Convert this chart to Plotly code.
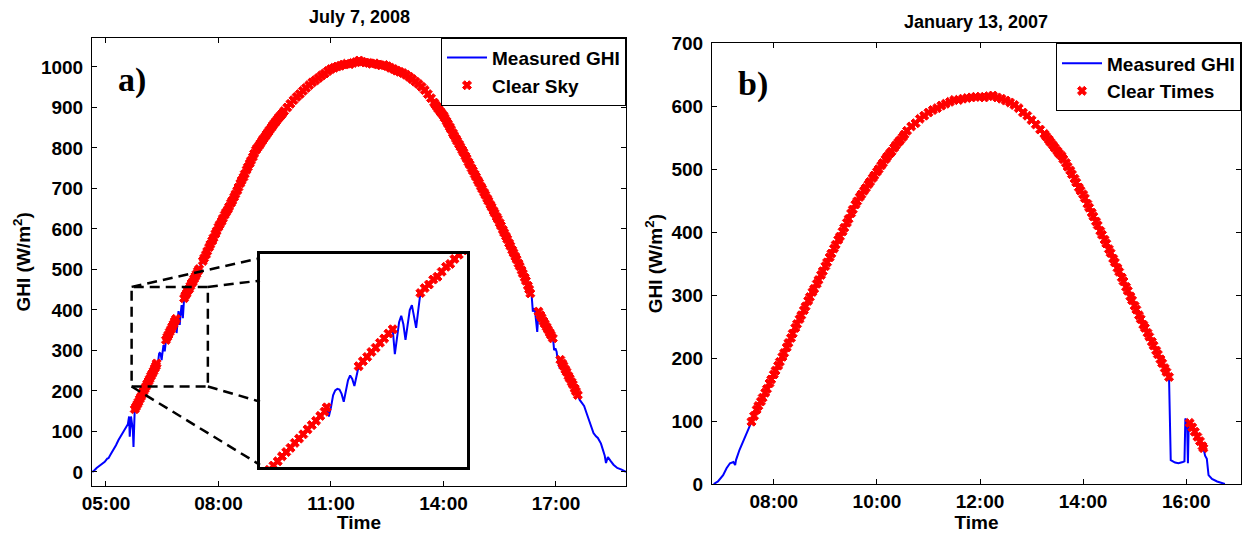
import plotly.graph_objects as go

# ---------------- data ----------------
A_TIME = ["04:38","04:40","04:45","04:50","04:55","04:58","05:02","05:04","05:08","05:12","05:16","05:20","05:25",
          "05:31","05:33","05:35","05:37","05:38","05:40","05:41","05:43","05:44","05:46","05:48","05:50","05:52",
          "05:54","05:56","05:58","06:00","06:02","06:04","06:06","06:08","06:10","06:12","06:14","06:16","06:18",
          "06:20","06:21","06:22","06:23","06:24","06:25","06:26","06:27","06:28","06:29","06:30","06:31","06:32",
          "06:33","06:34","06:35","06:36","06:38","06:40","06:42","06:44","06:46","06:48","06:50","06:52","06:53",
          "06:54","06:55","06:56","06:57","06:58","06:59","07:00","07:01","07:02","07:03","07:04","07:05","07:07",
          "07:09","07:11","07:13","07:15","07:17","07:19","07:21","07:23","07:25","07:27","07:29",
          "07:35","07:40","07:45","07:50","07:55","08:00","08:05","08:10","08:15","08:20","08:25","08:30","08:35",
          "08:40","08:45","08:50","08:55","09:00","09:05","09:10","09:15","09:20","09:25","09:30","09:35","09:40",
          "09:45","09:50","09:55","10:00","10:05","10:10","10:15","10:20","10:25","10:30","10:35","10:40","10:45",
          "10:50","10:55","11:00","11:05","11:10","11:15","11:20","11:25","11:30","11:35","11:40","11:45","11:50",
          "11:55","12:00","12:05","12:10","12:15","12:20","12:25","12:30","12:35","12:40","12:45","12:50","12:55",
          "13:00","13:05","13:10","13:15","13:20","13:25","13:30","13:35","13:40","13:45","13:50","13:55","14:00",
          "14:05","14:10","14:15","14:20","14:25","14:30","14:35","14:40","14:45","14:50","14:55","15:00","15:05",
          "15:10","15:15","15:20","15:25","15:30","15:35","15:40","15:45","15:50","15:55","16:00","16:05","16:10",
          "16:15","16:19","16:21","16:23","16:26","16:28","16:30","16:32","16:35","16:40","16:45","16:50","16:55",
          "16:56","16:57","16:59","17:01","17:02","17:04","17:06","17:07","17:10","17:15","17:20","17:25","17:30",
          "17:35","17:38","17:45","17:49","17:55","18:00","18:04","18:07","18:12","18:15","18:18","18:20","18:23",
          "18:27","18:32","18:38","18:45","18:52"]
A_GHI = [0,2,10,16,22,25,33,34,45,54,66,79,92,
         104,112,118,137,87,137,128,104,62,155,161,167,173,
         180,186,192,199,205,211,218,224,230,237,243,249,256,
         262,268,255,268,285,292,294,293,287,276,290,306,313,
         308,298,312,326,333,339,346,352,359,365,372,378,343,
         365,388,397,385,363,385,405,412,398,380,405,429,436,
         441,448,452,459,466,470,477,483,489,496,501,
         521,537,555,571,588,605,619,635,648,664,679,695,713,
         728,746,762,778,795,806,818,829,840,851,862,872,881,
         891,900,909,918,926,933,941,948,955,962,967,973,979,
         984,990,995,998,1001,1003,1006,1008,1007,1010,1012,1016,1013,
         1011,1010,1008,1009,1006,1004,1005,1002,998,995,991,988,985,
         981,976,970,964,958,951,943,933,923,912,901,890,880,
         866,852,837,823,809,795,780,765,750,735,720,705,690,
         675,660,645,630,615,598,582,565,548,532,515,498,480,
         460,441,437,396,404,375,346,396,387,372,358,344,330,
         318,301,305,297,285,270,256,277,268,253,237,222,206,
         190,178,163,145,118,96,88,84,70,54,40,22,37,
         28,18,10,6,0]
# extra readings on the steep parts of curve a)
A_TIME_EXTRA = ["07:37","07:42","07:47","07:52","07:57","08:02","08:07","08:12","08:17","08:22","08:27","08:32",
                "08:37","08:42","08:47","08:52","08:57","09:02","09:07","09:12","09:17","09:22","09:27","09:32",
                "09:37","09:42",
                "13:47","13:52","13:57","14:02","14:07","14:12","14:17","14:22","14:27","14:32","14:37","14:42",
                "14:47","14:52","14:57","15:02","15:07","15:12","15:17","15:22","15:27","15:32","15:37","15:42",
                "15:47","15:52","15:57","16:02","16:07","16:12","16:17",
                "16:37","16:42","16:47","16:52","17:12","17:17","17:22","17:27","17:32"]
A_GHI_EXTRA = [528,545,562,578,595,611,626,641,655,670,686,703,
               720,736,753,769,786,800,811,823,834,845,856,866,
               876,885,
               907,896,886,874,860,846,831,817,803,789,774,759,
               744,729,714,699,684,669,654,639,624,608,591,575,
               558,541,525,508,490,472,451,
               381,366,352,338,262,247,231,216,199]
A_CLEAR = [("05:46", "06:21"), ("06:36", "06:52"), ("07:05", "16:19"),
           ("16:32", "16:55"), ("17:07", "17:35")]

B_TIME = ["06:50","06:55","07:01","07:05","07:09","07:13","07:15","07:16","07:20","07:28","07:34",
          "07:40","07:45","07:50","07:55","08:00","08:05","08:10","08:15","08:20","08:25","08:30","08:35",
          "08:40","08:45","08:50","08:55","09:00","09:05","09:10","09:15","09:20","09:25","09:30","09:35",
          "09:40","09:45","09:50","09:55","10:00","10:05","10:10","10:15","10:20","10:25","10:30","10:35",
          "10:40","10:45","10:50","10:55","11:00","11:05","11:10","11:15","11:20","11:25","11:30","11:35",
          "11:40","11:45","11:50","11:55","12:00","12:05","12:10","12:15","12:20","12:25","12:30","12:35",
          "12:40","12:45","12:50","12:55","13:00","13:05","13:10","13:15","13:20","13:25","13:30","13:35",
          "13:40","13:45","13:50","13:55","14:00","14:05","14:10","14:15","14:20","14:25","14:30","14:35",
          "14:40","14:45","14:50","14:55","15:00","15:05","15:10","15:15","15:20","15:25","15:30","15:35",
          "15:40","15:42","15:47","15:51","15:56","15:58","15:59","16:01","16:02","16:03","16:04","16:07",
          "16:10","16:13","16:16","16:19","16:20","16:22","16:24","16:26","16:30","16:36","16:45"]
B_GHI = [0,4,14,25,33,35,30,38,54,80,99,
         118,131,145,160,174,188,202,217,232,248,262,276,
         291,305,318,332,346,360,374,388,401,415,430,444,
         456,466,476,486,496,506,516,525,534,543,551,561,
         568,573,580,585,590,594,597,601,604,607,610,610,
         612,613,614,615,615,614,616,617,614,612,609,606,
         602,597,590,585,578,571,563,556,547,538,529,521,
         510,498,485,471,460,445,431,417,402,388,373,358,
         343,328,313,298,283,268,253,240,226,212,198,184,
         170,38,34,33,35,36,104,98,33,99,97,90,
         83,75,68,60,57,45,40,14,8,4,0]
# extra readings on the steep parts of curve b)
B_TIME_EXTRA = ["07:37","07:42","07:47","07:52","07:57","08:02","08:07","08:12","08:17","08:22","08:27","08:32",
                "08:37","08:42","08:47","08:52","08:57","09:02","09:07","09:12","09:17","09:22","09:27","09:32",
                "09:37","09:42","09:47","09:52","09:57","10:02","10:07","10:12","10:17","10:22","10:27","10:32",
                "13:17","13:22","13:27","13:32","13:37","13:42","13:47","13:52","13:57","14:02","14:07","14:12",
                "14:17","14:22","14:27","14:32","14:37","14:42","14:47","14:52","14:57","15:02","15:07","15:12",
                "15:17","15:22","15:27","15:32","15:37"]
B_GHI_EXTRA = [108,124,137,151,166,180,194,208,224,239,254,268,
               282,297,310,324,338,352,366,380,393,407,421,436,
               449,460,470,480,490,500,510,520,528,538,546,555,
               552,543,534,525,516,504,492,479,466,454,439,425,
               411,396,382,367,352,337,322,307,292,277,262,248,
               234,220,206,192,178]
B_CLEAR = [("07:34", "15:40"), ("16:04", "16:20")]

A_TICKS = ["05:00", "08:00", "11:00", "14:00", "17:00"]
B_TICKS = ["08:00", "10:00", "12:00", "14:00", "16:00"]
A_YTICKS = list(range(0, 1001, 100))
B_YTICKS = list(range(0, 701, 100))

# zoomed region shown in the inset of panel a)
ZOOM_T = ("05:41", "07:43")
ZOOM_G = (211, 457)

# ---------------- helpers ----------------
W, H = 1243, 533


def hrs(s):
    h, m = s.split(":")
    return int(h) + int(m) / 60.0


def merged(times, vals, times2, vals2):
    pairs = sorted(zip(times + times2, vals + vals2), key=lambda p: hrs(p[0]))
    return [p[0] for p in pairs], [p[1] for p in pairs]


def clear_points(times, vals, periods):
    xs, ys = [], []
    for t, v in zip(times, vals):
        if any(hrs(a) <= hrs(t) <= hrs(b) for a, b in periods):
            xs.append(hrs(t))
            ys.append(v)
    return xs, ys


def pxx(x):
    return x / W


def pxy(y):
    return 1 - y / H


a_t, a_v = merged(A_TIME, A_GHI, A_TIME_EXTRA, A_GHI_EXTRA)
b_t, b_v = merged(B_TIME, B_GHI, B_TIME_EXTRA, B_GHI_EXTRA)
ax = [hrs(t) for t in a_t]
bx = [hrs(t) for t in b_t]
acx, acy = clear_points(a_t, a_v, A_CLEAR)
bcx, bcy = clear_points(b_t, b_v, B_CLEAR)

# layout geometry (pixels)
A_DOM_X = [pxx(92), pxx(626)]
A_DOM_Y = [pxy(486), pxy(37.7)]
B_DOM_X = [pxx(712), pxx(1241)]
B_DOM_Y = [pxy(484), pxy(43.3)]
I_DOM_X = [pxx(260), pxx(467)]
I_DOM_Y = [pxy(467), pxy(254)]
A_XR = [4.627, 18.867]
A_YR = [-34.6, 1072.3]
B_XR = [6.801, 17.063]
B_YR = [0, 700]
I_XR = [5.828, 7.448]
I_YR = [184, 484]

BLUE = "#0000ff"
RED = "#ff0000"
FONT = "Liberation Sans"

line_style = dict(color=BLUE, width=2)
mk_style = dict(symbol="x", size=8, color=RED, line=dict(color=RED, width=1))

fig = go.Figure()
fig.add_trace(go.Scatter(x=ax, y=a_v, mode="lines", line=line_style, name="Measured GHI",
                         xaxis="x", yaxis="y", legend="legend"))
fig.add_trace(go.Scatter(x=acx, y=acy, mode="markers", marker=mk_style, name="Clear Sky",
                         xaxis="x", yaxis="y", legend="legend"))
fig.add_trace(go.Scatter(x=bx, y=b_v, mode="lines", line=line_style, name="Measured GHI",
                         xaxis="x2", yaxis="y2", legend="legend2"))
fig.add_trace(go.Scatter(x=bcx, y=bcy, mode="markers", marker=mk_style, name="Clear Times",
                         xaxis="x2", yaxis="y2", legend="legend2"))
fig.add_trace(go.Scatter(x=ax, y=a_v, mode="lines", line=line_style, showlegend=False,
                         xaxis="x3", yaxis="y3"))
fig.add_trace(go.Scatter(x=acx, y=acy, mode="markers", marker=mk_style, showlegend=False,
                         xaxis="x3", yaxis="y3"))

tickfont = dict(family=FONT, size=19, color="black", weight="bold")
titlefont = dict(family=FONT, size=19, color="black", weight="bold")
common = dict(showline=True, linecolor="black", linewidth=1, mirror="ticks", ticks="inside",
              ticklen=5, tickwidth=1, tickcolor="black", showgrid=False, zeroline=False,
              tickfont=tickfont, automargin=False)

fig.update_layout(
    width=W, height=H, margin=dict(l=0, r=0, t=0, b=0),
    paper_bgcolor="white", plot_bgcolor="white",
    xaxis=dict(domain=A_DOM_X, range=A_XR, anchor="y", tickvals=[hrs(t) for t in A_TICKS],
               ticktext=A_TICKS, ticklabelstandoff=0,
               title=dict(text="Time", font=titlefont, standoff=3), **common),
    yaxis=dict(domain=A_DOM_Y, range=A_YR, anchor="x", tickvals=A_YTICKS, ticklabelstandoff=4,
               title=dict(text="GHI (W/m<sup>2</sup>)", font=titlefont, standoff=5), **common),
    xaxis2=dict(domain=B_DOM_X, range=B_XR, anchor="y2", tickvals=[hrs(t) for t in B_TICKS],
                ticktext=B_TICKS, ticklabelstandoff=0,
                title=dict(text="Time", font=titlefont, standoff=3), **common),
    yaxis2=dict(domain=B_DOM_Y, range=B_YR, anchor="x2", tickvals=B_YTICKS, ticklabelstandoff=4,
                title=dict(text="GHI (W/m<sup>2</sup>)", font=titlefont, standoff=3), **common),
    xaxis3=dict(domain=I_DOM_X, range=I_XR, anchor="y3", showline=True, mirror=True,
                linecolor="black", linewidth=2.5, showticklabels=False, ticks="",
                showgrid=False, zeroline=False),
    yaxis3=dict(domain=I_DOM_Y, range=I_YR, anchor="x3", showline=True, mirror=True,
                linecolor="black", linewidth=2.5, showticklabels=False, ticks="",
                showgrid=False, zeroline=False),
    legend=dict(x=pxx(626), xanchor="right", y=pxy(37.7), yanchor="top", bgcolor="white",
                bordercolor="black", borderwidth=1, font=dict(family=FONT, size=19, color="black",
                                                              weight="bold"),
                itemwidth=40, tracegroupgap=0),
    legend2=dict(x=pxx(1241), xanchor="right", y=pxy(43.3), yanchor="top", bgcolor="white",
                 bordercolor="black", borderwidth=1, font=dict(family=FONT, size=19, color="black",
                                                               weight="bold"),
                 itemwidth=40, tracegroupgap=0),
    showlegend=True,
)


def a_to_paper(h, g):
    xp = A_DOM_X[0] + (h - A_XR[0]) / (A_XR[1] - A_XR[0]) * (A_DOM_X[1] - A_DOM_X[0])
    yp = A_DOM_Y[0] + (g - A_YR[0]) / (A_YR[1] - A_YR[0]) * (A_DOM_Y[1] - A_DOM_Y[0])
    return xp, yp


dash = dict(color="black", width=2.5, dash="10px,6px")
t0, t1 = hrs(ZOOM_T[0]), hrs(ZOOM_T[1])
g0, g1 = ZOOM_G
fig.add_shape(type="rect", xref="x", yref="y", x0=t0, x1=t1, y0=g0, y1=g1, line=dash)

tl = a_to_paper(t0, g1)
tr = a_to_paper(t1, g1)
bl = a_to_paper(t0, g0)
br = a_to_paper(t1, g0)
ih = I_DOM_Y[1] - I_DOM_Y[0]
targets = [(tl, I_DOM_Y[0] + 0.98 * ih), (tr, I_DOM_Y[0] + 0.875 * ih),
           (bl, I_DOM_Y[0] + 0.01 * ih), (br, I_DOM_Y[0] + 0.307 * ih)]
for (sx, sy), ty in targets:
    fig.add_shape(type="line", xref="paper", yref="paper", x0=sx, y0=sy, x1=I_DOM_X[0], y1=ty,
                  line=dash)

# panel titles and labels
ann = dict(xref="paper", yref="paper", showarrow=False, yanchor="middle")
fig.add_annotation(text="July 7, 2008", x=pxx(359), y=pxy(17), xanchor="center",
                   font=dict(family=FONT, size=18, color="black", weight="bold"), **ann)
fig.add_annotation(text="January 13, 2007", x=pxx(976), y=pxy(22), xanchor="center",
                   font=dict(family=FONT, size=18, color="black", weight="bold"), **ann)
fig.add_annotation(text="a)", x=pxx(116), y=pxy(80), xanchor="left",
                   font=dict(family="Liberation Serif", size=34, color="black", weight="bold"), **ann)
fig.add_annotation(text="b)", x=pxx(736), y=pxy(84), xanchor="left",
                   font=dict(family="Liberation Serif", size=34, color="black", weight="bold"), **ann)

fig.write_html("out.html")
